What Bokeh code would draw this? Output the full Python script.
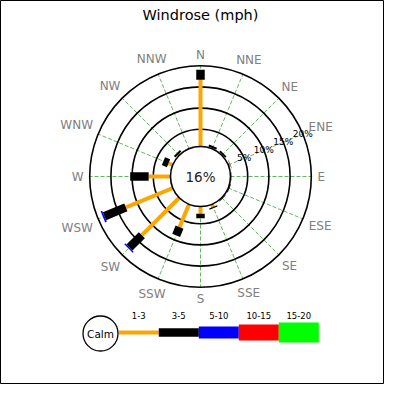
import numpy as np
from bokeh.plotting import figure
from bokeh.models import Range1d
from bokeh.core.properties import value
from bokeh.embed import file_html
from bokeh.resources import INLINE

directions = ["N", "NNE", "NE", "ENE", "E", "ESE", "SE", "SSE",
              "S", "SSW", "SW", "WSW", "W", "WNW", "NW", "NNW"]
speed_bins = ["1-3", "3-5", "5-10", "10-15", "15-20"]

# percent of observations per direction for each speed bin (mph)
pct_1_3 = [15.9, 0.2, 0.2, 0.4, 0.1, 0.1, 0.1, 0.7, 1.7, 5.9, 12.6, 12.1, 5.2, 1.1, 0.3, 0.1]
pct_3_5 = [2.4, 0.5, 0.4, 0.1, 0.1, 0.2, 0.2, 0.3, 1.1, 2.1, 4.2, 5.5, 4.4, 1.3, 0.5, 0.1]
pct_5_10 = [0, 0, 0, 0, 0, 0, 0, 0, 0, 0, 0.3, 0.4, 0, 0, 0, 0]
pct_10_15 = [0, 0, 0, 0, 0, 0, 0, 0, 0, 0, 0, 0, 0, 0, 0, 0]
pct_15_20 = [0, 0, 0, 0, 0, 0, 0, 0, 0, 0, 0, 0, 0, 0, 0, 0]
calm_pct = 16
ring_pcts = [5, 10, 15, 20]

# --- styling ---
bin_colors = ["orange", "black", "blue", "red", "lime"]
bin_widths = [4, 8.5, 12, 16, 20]
R_CALM = 30.0        # px radius of the calm circle
PX_PER_PCT = 4.2     # bar length per percent
FONT = value("DejaVu Sans")
LABEL_PX = 12
CHAR_EM = {"N": 0.748, "E": 0.632, "S": 0.635, "W": 0.989}


def ring_radius(pct):
    return 26.0 + 4.24 * pct


def polar(r, angle_deg):
    a = np.radians(angle_deg)
    return r * np.sin(a), r * np.cos(a)


# 1 data unit = 1 px, rose centre at (200, 176) from the top left
p = figure(width=384, height=384, output_backend="svg", toolbar_location=None,
           x_range=Range1d(-200, 184), y_range=Range1d(-208, 176),
           x_axis_type=None, y_axis_type=None, min_border=0)
p.grid.visible = False
p.outline_line_color = "black"
p.outline_line_width = 1

angles = [i * 22.5 for i in range(len(directions))]

# radial dashed grid
x0, y0 = polar(R_CALM, np.array(angles))
x1, y1 = polar(ring_radius(ring_pcts[-1]), np.array(angles))
p.segment(x0, y0, x1, y1, line_color="green", line_alpha=0.6, line_width=1, line_dash="4 2")

# rings
p.circle(x=[0] * len(ring_pcts), y=[0] * len(ring_pcts),
         radius=[ring_radius(v) for v in ring_pcts],
         fill_color=None, line_color="black", line_width=1.6)

# bars, one stacked segment per speed bin
series = [pct_1_3, pct_3_5, pct_5_10, pct_10_15, pct_15_20]
cum = np.zeros(len(directions))
for vals, color, w in zip(series, bin_colors, bin_widths):
    vals = np.array(vals, dtype=float)
    keep = vals > 0
    ang = np.array(angles)[keep]
    r0 = R_CALM + PX_PER_PCT * cum[keep]
    r1 = R_CALM + PX_PER_PCT * (cum[keep] + vals[keep])
    bx0, by0 = polar(r0, ang)
    bx1, by1 = polar(r1, ang)
    if len(ang):
        p.segment(bx0, by0, bx1, by1, line_color=color, line_width=w)
    cum += vals

# calm circle
p.circle(x=[0], y=[0], radius=[R_CALM], fill_color="white",
         line_color="black", line_width=1.6)
p.text(x=[0], y=[0], text=[f"{calm_pct}%"], text_align="center", text_baseline="middle",
       text_font=FONT, text_font_size="13.5px", text_color="#222222")

# ring labels along ENE
lx, ly = polar(np.array([ring_radius(v) for v in ring_pcts]), 67.5)
p.text(x=lx, y=ly, text=[f"{v}%" for v in ring_pcts], text_align="center",
       text_baseline="middle", text_font=FONT, text_font_size="9px", text_color="black")

# direction labels: box edge nearest the centre sits on a fixed radius
lab_x, lab_y = [], []
for name, a in zip(directions, angles):
    hw = sum(CHAR_EM[c] for c in name) * LABEL_PX / 2
    hh = 5.0
    t = np.radians(a)
    r = 117.0 + hw * abs(np.sin(t)) + hh * abs(np.cos(t))
    x, y = polar(r, a)
    lab_x.append(x)
    lab_y.append(y)
p.text(x=lab_x, y=lab_y, text=directions, text_align="center", text_baseline="middle",
       text_font=FONT, text_font_size=f"{LABEL_PX}px", text_color="gray")

# title
p.text(x=[0], y=[162], text=["Windrose (mph)"], text_align="center", text_baseline="middle",
       text_font=FONT, text_font_size="14.5px", text_color="black")

# legend
leg_y = -156
leg_x = [-81.7 + 40 * i for i in range(len(speed_bins) + 1)]
for i, (lab, color, w) in enumerate(zip(speed_bins, bin_colors, bin_widths)):
    p.segment([leg_x[i]], [leg_y], [leg_x[i + 1]], [leg_y], line_color=color, line_width=w)
p.text(x=[(leg_x[i] + leg_x[i + 1]) / 2 for i in range(len(speed_bins))],
       y=[-139] * len(speed_bins), text=speed_bins, text_align="center",
       text_baseline="middle", text_font=FONT, text_font_size="8.5px", text_color="black")
p.circle(x=[-100], y=[-157], radius=[17.5], fill_color="white",
         line_color="black", line_width=1.3)
p.text(x=[-100], y=[-157], text=["Calm"], text_align="center", text_baseline="middle",
       text_font=FONT, text_font_size="10.5px", text_color="black")

open("out.html", "w").write(file_html(p, INLINE))
